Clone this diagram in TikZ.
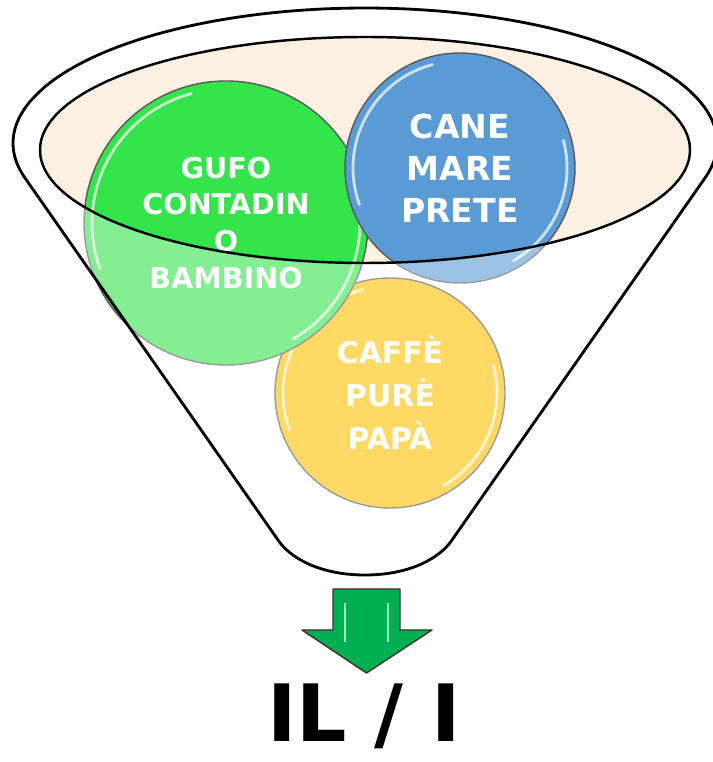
\documentclass[tikz,border=0pt]{standalone}
\usepackage{fontspec}
\setmainfont{DejaVu Sans}
\usepackage{tkz-euclide}
\definecolor{PeachClr}{RGB}{253,241,227}
\definecolor{GufoClr}{RGB}{51,228,74}
\definecolor{CaneClr}{RGB}{91,155,213}
\definecolor{CaffeClr}{RGB}{255,192,0}
\definecolor{ArrowClr}{RGB}{0,176,80}
\definecolor{ArrowLightClr}{RGB}{150,245,190}
\definecolor{RimClr}{RGB}{89,89,89}

\newcommand{\FunnelPath}{(L) -- (LB) .. controls (5.80,4.08) and (6.40,3.74) .. (7.30,3.74)
  .. controls (8.20,3.74) and (8.80,4.08) .. (RB) -- (R)
  arc[start angle=-15,end angle=195,x radius=7.04,y radius=2.70] -- cycle}

\begin{document}
\begin{tikzpicture}[
  ball/.style={draw=RimClr,line width=0.8pt},
  gloss/.style={white,line width=1.6pt,opacity=0.7,line cap=round},
  word/.style={white,align=center,inner sep=0pt}]
\useasboundingbox (0,0) rectangle (14.26,15.24);

\tkzDefPoints{7.30/12.38/O,7.30/12.24/I,4.52/10.78/G,9.20/11.88/C,7.80/7.38/P}
\tkzDefPoints{0.50/11.68/L,14.10/11.68/R,5.56/4.44/LB,9.04/4.44/RB}

% inside of the funnel
\fill[PeachClr] (I) ellipse [x radius=6.50,y radius=2.26];

% the three balls
\foreach \c/\r/\clr in {P/2.30/CaffeClr,G/2.84/GufoClr,C/2.30/CaneClr}{
  \draw[ball,fill=\clr] (\c) circle (\r);
  \draw[gloss,shift={(\c)}] (105:{\r-0.16}) arc[start angle=105,end angle=200,radius=\r-0.16];
  \draw[gloss,shift={(\c)}] (-60:{\r-0.16}) arc[start angle=-60,end angle=15,radius=\r-0.16];
}

% front glass of the funnel
\fill[white,opacity=0.4,even odd rule] \FunnelPath (I) ellipse [x radius=6.50,y radius=2.26];

\node[word,font=\bfseries\fontsize{16.3}{21}\selectfont] (gufo) at (G) {GUFO\\CONTADIN\\O\\BAMBINO};
\node[word,font=\bfseries\fontsize{18.8}{23.9}\selectfont] (cane) at (C) {CANE\\MARE\\PRETE};
\node[word,font=\bfseries\fontsize{17}{24.5}\selectfont] (caffe) at (P) {CAFFÈ\\PURÈ\\PAPÀ};

\draw[line width=1.4pt] (I) ellipse [x radius=6.50,y radius=2.26];
\draw[line width=1.6pt,line join=round] \FunnelPath;

% arrow
\filldraw[fill=ArrowClr,draw=black!80,line width=0.8pt,line join=round]
  (6.66,3.46) -- (8.00,3.46) -- (8.00,2.64) -- (8.64,2.64) -- (7.33,1.78)
  -- (6.04,2.64) -- (6.66,2.64) -- cycle;
\draw[ArrowLightClr,line width=1.5pt] (6.90,3.18) -- (6.90,2.40) (7.76,3.18) -- (7.76,2.40);

\node[font=\bfseries\fontsize{45}{45}\selectfont,anchor=base,inner sep=0pt] (result) at (7.28,0.40) {IL / I};

\end{tikzpicture}
\end{document}
